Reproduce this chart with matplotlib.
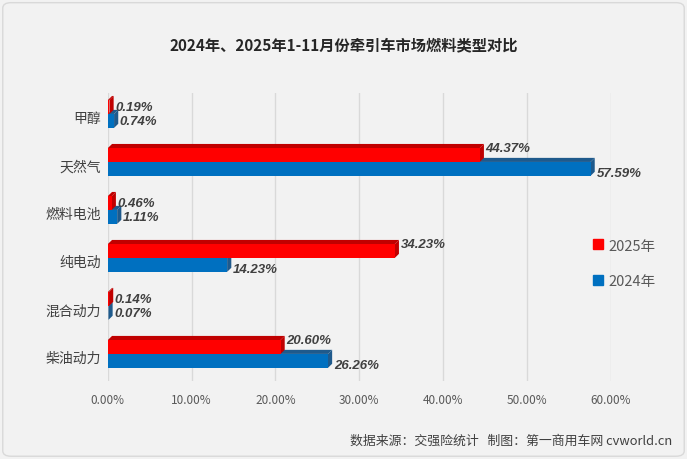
import matplotlib.pyplot as plt
from matplotlib.patches import Polygon, FancyBboxPatch
from matplotlib.lines import Line2D

plt.rcParams['font.family'] = ['Noto Sans CJK SC', 'DejaVu Sans']

# --- Data ---
categories = ["甲醇", "天然气", "燃料电池", "纯电动", "混合动力", "柴油动力"]
share_2025 = [0.19, 44.37, 0.46, 34.23, 0.14, 20.60]
share_2024 = [0.74, 57.59, 1.11, 14.23, 0.07, 26.26]
series_names = ["2025年", "2024年"]
x_ticks = [0, 10, 20, 30, 40, 50, 60]

title = "2024年、2025年1-11月份牵引车市场燃料类型对比"
source = "数据来源：交强险统计   制图：第一商用车网 cvworld.cn"

RED, RED_DARK = "#ff0000", "#c00000"
BLUE, BLUE_DARK = "#0070c0", "#1f5a8c"
BG = "#f2f2f2"

# --- Plot ---
fig = plt.figure(figsize=(6.87, 4.60), dpi=100, facecolor=BG)
ax = fig.add_axes([0.157, 0.17, 0.732, 0.626])
ax.set_facecolor(BG)

h = 0.29      # bar thickness (category units)
dx = 0.5      # 3D depth in x (percent)
dy = 0.085    # 3D depth in y (category units)
shift = 0.06  # bars sit slightly above the category centre (3D floor)


def bar3d(yc, v, front, dark):
    yt, yb = yc - h / 2, yc + h / 2
    top = Polygon([(0, yt), (v, yt), (v + dx, yt - dy), (dx, yt - dy)],
                  closed=True, facecolor=dark, edgecolor="none", zorder=3)
    side = Polygon([(v, yt), (v + dx, yt - dy), (v + dx, yb - dy), (v, yb)],
                   closed=True, facecolor=dark, edgecolor="none", zorder=3)
    ax.add_patch(top)
    ax.add_patch(side)
    ax.barh(yc, v, height=h, color=front, zorder=3)


label_style = dict(fontsize=9.5, fontweight="bold", fontstyle="italic",
                   color="#404040", family=["Liberation Sans"], va="center", ha="left")

for i, cat in enumerate(categories):
    y_red = i - shift - h / 2
    y_blue = i - shift + h / 2
    bar3d(y_blue, share_2024[i], BLUE, BLUE_DARK)
    bar3d(y_red, share_2025[i], RED, RED_DARK)

    off_r = -0.15 if share_2025[i] > 5 else 0.0
    off_b = 0.08 if share_2024[i] > 5 else 0.0
    ax.text(share_2025[i] + dx + 0.2, y_red + off_r, f"{share_2025[i]:.2f}%", **label_style)
    ax.text(share_2024[i] + dx + 0.2, y_blue + off_b, f"{share_2024[i]:.2f}%", **label_style)

ax.set_xlim(0, 60)
ax.set_ylim(len(categories) - 0.5, -0.5)
ax.set_xticks(x_ticks)
ax.set_xticklabels([f"{t:.2f}%" for t in x_ticks], fontsize=8.5, color="#595959")
ax.set_yticks(range(len(categories)))
ax.set_yticklabels(categories, fontsize=10, color="#404040")
ax.tick_params(length=0)
ax.tick_params(axis="x", pad=9)
ax.tick_params(axis="y", pad=5)
ax.grid(axis="x", color="#d9d9d9", linewidth=1, zorder=0)
for s in ax.spines.values():
    s.set_visible(False)

handles = [Line2D([0], [0], marker="s", linestyle="none", markersize=7,
                  markerfacecolor=c, markeredgecolor=c) for c in (RED, BLUE)]
fig.legend(handles, series_names, loc="center left", bbox_to_anchor=(0.843, 0.425),
           frameon=False, fontsize=10.5, labelcolor="#595959", handletextpad=0.3,
           labelspacing=1.5, handlelength=0.8)

fig.text(0.5, 0.902, title, ha="center", va="center", fontsize=11,
         fontweight="bold", color="#262626")
fig.text(0.978, 0.04, source, ha="right", va="center", fontsize=9.3, color="#404040")

border = FancyBboxPatch((0.004, 0.006), 0.992, 0.986, boxstyle="round,pad=0,rounding_size=0.012",
                        transform=fig.transFigure, facecolor="none", edgecolor="#d9d9d9",
                        linewidth=1)
fig.patches.append(border)

fig.savefig("out.png", dpi=100, facecolor=BG)
